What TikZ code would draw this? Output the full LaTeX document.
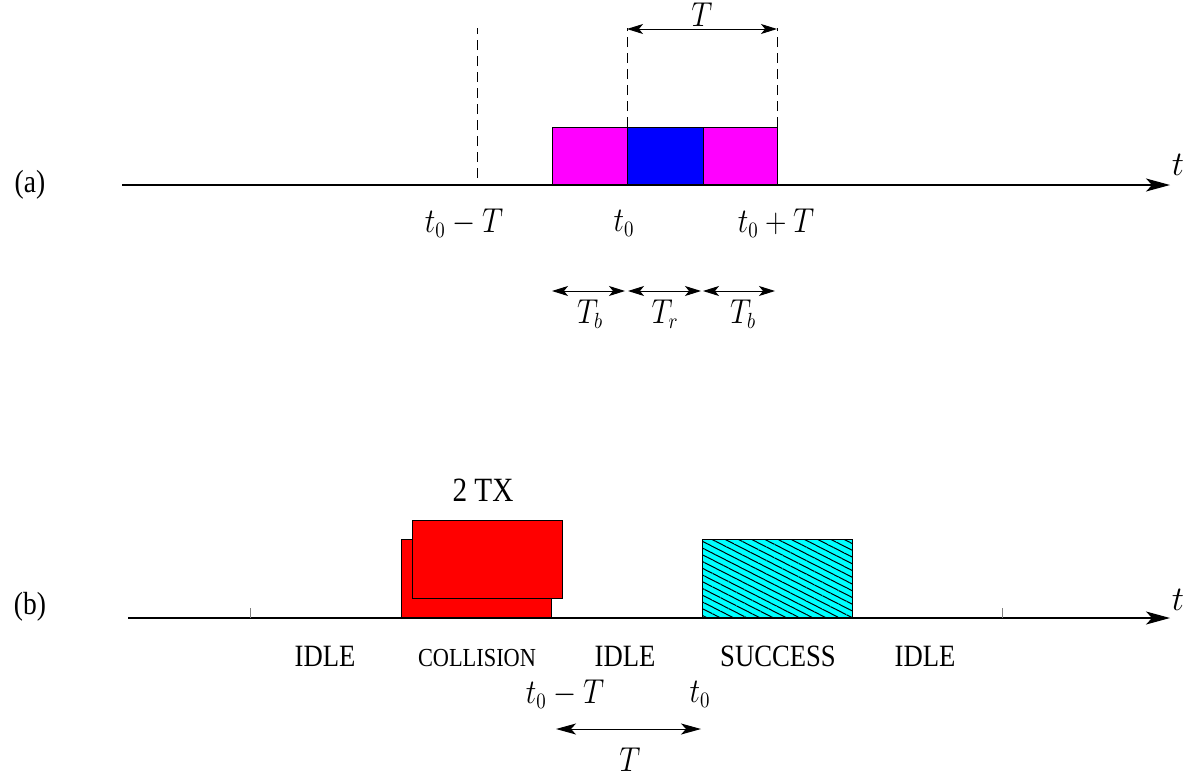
\documentclass[tikz,border=0pt]{standalone}
\usepackage[no-math]{fontspec}
\usepackage{graphicx}
\setmainfont{Liberation Serif}
\usetikzlibrary{arrows.meta,patterns.meta}
\definecolor{backoff}{RGB}{255,0,255}
\definecolor{receive}{RGB}{0,0,255}
\definecolor{clash}{RGB}{255,0,0}
\definecolor{okay}{RGB}{0,255,255}
% the labels are set a little narrow
\newcommand{\narrow}[1]{\scalebox{0.86}[1]{#1}}
\tikzset{
    axis/.style = {-{Stealth[length = 12pt, width = 6.5pt, inset = 3pt]}, line width = 0.6pt},
    span/.style = {{Stealth[length = 8pt, width = 5pt, inset = 2pt]}-{Stealth[length = 8pt, width = 5pt, inset = 2pt]}, line width = 0.5pt},
    longspan/.style = {{Stealth[length = 10pt, width = 5.5pt, inset = 2.5pt]}-{Stealth[length = 10pt, width = 5.5pt, inset = 2.5pt]}, line width = 0.5pt},
    guide/.style = {dash pattern = on 5pt off 3pt, line width = 0.4pt},
    slot/.style = {draw, line width = 0.5pt},
    word/.style = {font = \fontsize{15.5}{18}\selectfont, inner sep = 0pt},
    small/.style = {font = \fontsize{13}{15}\selectfont, inner sep = 0pt},
    sym/.style = {font = \fontsize{16}{19}\selectfont, inner sep = 0pt},
}
\begin{document}
\begin{tikzpicture}[x = 0.5pt, y = -0.5pt]
    \useasboundingbox (0, 0) rectangle (1192, 776);

    % (a)
    \path
        (30, 185) node[word, font = \fontsize{16}{19}\selectfont] (la) {\narrow{(a)}}
        (122, 185) coordinate (a0)
        (1170, 185) coordinate (a1)
        (1178, 165) node[sym] (ta) {$t$}
        (477, 178) coordinate (d0)
        (627, 127) coordinate (d1)
        (777, 127) coordinate (d2)
    ;
    \draw[slot, fill = backoff] (552, 127) rectangle (627, 185);
    \draw[slot, fill = receive] (627, 127) rectangle (703, 185);
    \draw[slot, fill = backoff] (703, 127) rectangle (777, 185);
    \draw[axis] (a0) -- (a1);
    \draw[guide]
        (d0) -- (477, 28)
        (d1) -- (627, 28) coordinate (e1)
        (d2) -- (777, 28) coordinate (e2)
    ;
    \draw[span] (627, 29) -- (777, 29);
    \path
        (702, 15) node[sym] (T) {\narrow{$T$}}
        (464, 223) node[sym] (m) {\narrow{$t_0 - T$}}
        (624, 223) node[sym] (z) {\narrow{$t_0$}}
        (776, 223) node[sym] (p) {\narrow{$t_0 + T$}}
    ;
    \draw[span] (552, 291) coordinate (s0) -- (625, 291) coordinate (s1);
    \draw[span] (628, 291) coordinate (s2) -- (701, 291) coordinate (s3);
    \draw[span] (703, 291) coordinate (s4) -- (775, 291) coordinate (s5);
    \path
        (590, 314) node[sym] (tb1) {\narrow{$T_b$}}
        (665, 314) node[sym] (tr) {\narrow{$T_r$}}
        (743, 314) node[sym] (tb2) {\narrow{$T_b$}}
    ;

    % (b)
    \path
        (30, 607) node[word, font = \fontsize{16}{19}\selectfont] (lb) {\narrow{(b)}}
        (128, 618) coordinate (b0)
        (1170, 618) coordinate (b1)
        (1178, 600) node[sym] (tb) {$t$}
    ;
    \draw[slot, fill = clash] (401, 539) rectangle (551, 618);
    \draw[slot, fill = clash] (412, 520) rectangle (562, 598);
    \fill[okay] (702, 539) rectangle (852, 618);
    \path[pattern = {Lines[angle = -27, distance = 3pt, line width = 0.5pt]}] (702, 539) rectangle (852, 618);
    \draw[slot] (702, 539) rectangle (852, 618);
    \draw[axis] (b0) -- (b1);
    \draw[line width = 0.4pt, gray]
        (250, 608) -- (250, 618)
        (1002, 608) -- (1002, 618)
    ;
    \path
        (483, 490) node[word, font = \fontsize{17}{20}\selectfont] (tx) {\narrow{2 TX}}
        (325, 656) node[word] (i1) {\narrow{IDLE}}
        (477, 658) node[small] (col) {\narrow{COLLISION}}
        (625, 656) node[word] (i2) {\narrow{IDLE}}
        (778, 656) node[word] (suc) {\narrow{SUCCESS}}
        (925, 656) node[word] (i3) {\narrow{IDLE}}
        (565, 694) node[sym] (bm) {\narrow{$t_0 - T$}}
        (700, 694) node[sym] (bz) {\narrow{$t_0$}}
        (630, 760) node[sym] (bT) {\narrow{$T$}}
    ;
    \draw[longspan] (556, 729) coordinate (w0) -- (701, 729) coordinate (w1);
\end{tikzpicture}
\end{document}
